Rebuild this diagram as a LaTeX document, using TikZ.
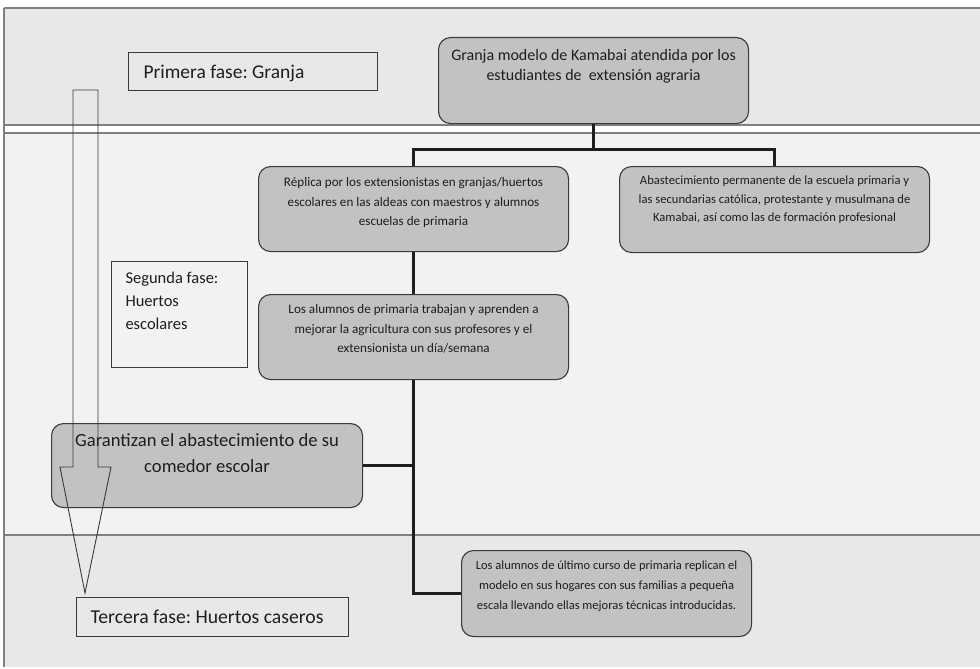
\documentclass[tikz,border=0pt]{standalone}
\usepackage{fontspec}
\setmainfont{Carlito}
\frenchspacing
\definecolor{bandA}{HTML}{E8E8E8}
\definecolor{bandB}{HTML}{F2F2F2}
\definecolor{boxfill}{HTML}{C2C2C2}
\definecolor{edge}{HTML}{3A3A3A}
\definecolor{sepc}{HTML}{808080}
\definecolor{txt}{HTML}{1E1E1E}
\definecolor{connc}{HTML}{1E1E1E}
\tikzset{
  gbox/.style={draw=edge, line width=1.1pt, fill=boxfill, rounded corners=12pt, inner sep=0pt, anchor=north west, text=txt},
  pbox/.style={draw=edge, line width=1pt, inner sep=0pt, anchor=north west, text=txt},
  conn/.style={draw=connc, line width=3pt},
  sepline/.style={draw=sepc, line width=1.5pt},
  bigarrow/.style={draw=edge, line width=0.9pt, line join=miter},
}
\newcommand{\bt}[7]{\parbox[t][#3][t]{#2}{#1\fontsize{#5}{#6}\selectfont\frenchspacing\vspace*{\dimexpr#4-#6*7/10\relax}\strut#7}}
\begin{document}
\begin{tikzpicture}[x=1pt,y=-1pt]
\useasboundingbox (0,0) rectangle (980,669);
% bands
\fill[bandA] (4,8) rectangle (980,125);
\fill[bandB] (4,133) rectangle (980,535);
\fill[bandA] (4,535) rectangle (980,667);
\draw[sepline] (4,8) -- (980,8);
\draw[sepline] (4,125) -- (980,125);
\draw[sepline] (4,133) -- (980,133);
\draw[sepline] (4,535) -- (980,535);
\draw[sepline] (4,8) -- (4,667);
% phase boxes
\node[pbox] (p1) at (128,52) {\bt{\raggedright\leftskip=15pt}{249pt}{38pt}{26pt}{19.5pt}{24pt}{Primera fase: Granja}};
\node[pbox] (p2) at (111,261) {\bt{\raggedright\leftskip=14pt}{136pt}{106pt}{22pt}{16.5pt}{23pt}{Segunda fase:\\ Huertos\\ escolares}};
\node[pbox] (p3) at (76,597) {\bt{\raggedright\leftskip=14pt}{272pt}{39pt}{26pt}{19.7pt}{24pt}{Tercera fase: Huertos caseros}};
% content boxes
\node[gbox] (top) at (438,37) {\bt{\centering}{310pt}{86pt}{22.5pt}{16pt}{20.5pt}{Granja modelo de Kamabai atendida por los\\ estudiantes de\ \ extensión agraria}};
\node[gbox] (rep) at (258,166) {\bt{\centering}{310pt}{85pt}{20pt}{13.1pt}{19.5pt}{Réplica por los extensionistas en granjas/huertos\\ escolares en las aldeas con maestros y alumnos\\ escuelas de primaria}};
\node[gbox] (abs) at (619,166) {\bt{\centering}{310pt}{86pt}{18pt}{12.6pt}{18.5pt}{Abastecimiento permanente de la escuela primaria y\\ las secundarias católica, protestante y musulmana de\\ Kamabai, así como las de formación profesional}};
\node[gbox] (alum) at (258,294) {\bt{\centering}{310pt}{85pt}{19pt}{13.1pt}{19.5pt}{Los alumnos de primaria trabajan y aprenden a\\ mejorar la agricultura con sus profesores y el\\ extensionista un día/semana}};
\node[gbox] (gar) at (51,423) {\bt{\centering}{311pt}{84pt}{23pt}{18.6pt}{26pt}{Garantizan el abastecimiento de su\\ comedor escolar}};
\node[gbox] (ult) at (461,550) {\bt{\centering}{290pt}{86pt}{19pt}{12.5pt}{20pt}{Los alumnos de último curso de primaria replican el\\ modelo en sus hogares con sus familias a pequeña\\ escala llevando ellas mejoras técnicas introducidas.}};
% connectors
\coordinate (bus) at (0,149);
\draw[conn] (top.south) -- (top.south |- bus);
\draw[conn] (rep.north) -- (rep.north |- bus) -| (abs.north);
\draw[conn] (rep.south) -- (alum.north);
\draw[conn] (alum.south) |- (ult.west);
\draw[conn] (gar.east) -- (gar.east -| alum.south);
% big phase arrow
\draw[bigarrow] (73,90) -- (98,90) -- (98,467) -- (111,467) -- (85,593) -- (60,467) -- (73,467) -- cycle;
\end{tikzpicture}
\end{document}
